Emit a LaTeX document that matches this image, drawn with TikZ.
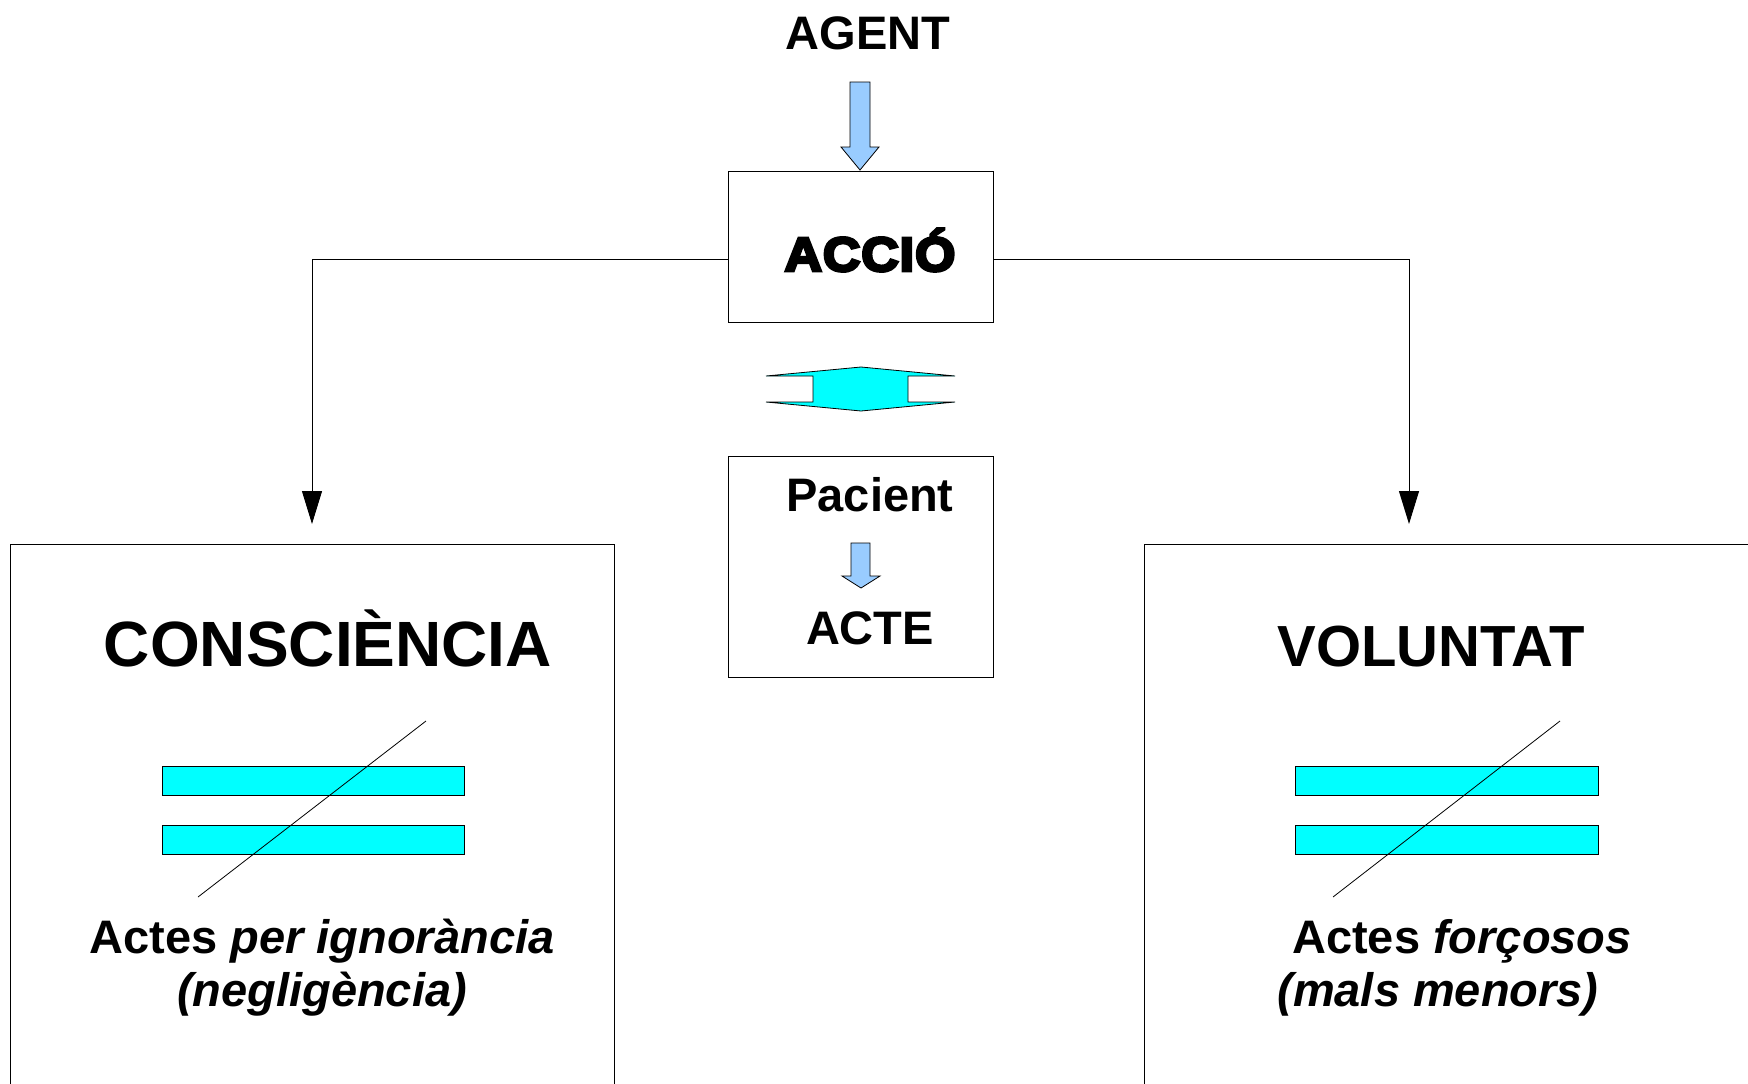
\documentclass[tikz,border=0pt]{standalone}
\usepackage{fontspec}
\setmainfont{Liberation Sans}
\newfontfamily\blackfont[FakeBold=6,FakeStretch=1.08,LetterSpace=2]{Liberation Sans Bold}
\usetikzlibrary{arrows.meta}
\definecolor{barcyan}{HTML}{00FFFF}
\definecolor{arrowblue}{HTML}{99CCFF}
\tikzset{
  box/.style={draw, line width=1pt, inner sep=0pt},
  txt/.style={anchor=base, inner sep=0pt, font=\bfseries\fontsize{47}{50}\selectfont},
  title/.style={anchor=base, inner sep=0pt, font=\bfseries\fontsize{64}{70}\selectfont},
  conn/.style={line width=1pt, shorten >=20pt, -{Triangle[length=33pt,width=20pt]}},
  bluearrow/.style={draw, line width=0.8pt, fill=arrowblue},
  bar/.style={draw, line width=0.8pt, fill=barcyan}
}
\begin{document}
\begin{tikzpicture}[x=1pt,y=-1pt]
  \clip (0,0) rectangle (1748,1084);
  \fill[white] (0,0) rectangle (1748,1084);

  % centre column
  \node[txt] (agent) at (868,49) {AGENT};
  \node[box, minimum width=265pt, minimum height=151pt] (acc) at (860.5,246.5) {};
  \node[txt, font=\blackfont\fontsize{48}{50}\selectfont] (acctxt) at (870,271) {ACCIÓ};
  \node[box, minimum width=265pt, minimum height=221pt] (pac) at (860.5,566.5) {};
  \node[txt] (pacient) at (870,511) {Pacient};
  \node[txt] (acte) at (870,644) {ACTE};

  \draw[bluearrow] (850,82) -- (870,82) -- (870,147) -- (879,147)
      -- (860,170) -- (841,147) -- (850,147) -- cycle;
  \draw[bluearrow] (851,543) -- (870,543) -- (870,576) -- (880,576)
      -- (861,588) -- (842,576) -- (851,576) -- cycle;
  \draw[bar] (766,376) -- (813,376) -- (813,402) -- (766,402) -- (861,411)
      -- (955,402) -- (908,402) -- (908,376) -- (955,376) -- (861,367) -- cycle;

  % side boxes
  \node[box, minimum width=604pt, minimum height=600pt, anchor=north] (cons) at (312,544) {};
  \node[box, minimum width=640pt, minimum height=600pt, anchor=north west] (vol) at (1144,544) {};
  \draw[conn] ([yshift=-12.5pt]acc.west) -| (cons.north);
  \draw[conn] ([yshift=-12.5pt]acc.east) -| ([xshift=265pt]vol.north west);

  \node[title] (constxt) at (328,666) {CONSCIÈNCIA};
  \node[title, font=\bfseries\fontsize{58}{62}\selectfont] (voltxt) at (1431,666) {VOLUNTAT};

  \draw[bar] (162,766) rectangle (464,795);
  \draw[bar] (162,825) rectangle (464,854);
  \draw[line width=0.8pt] (426,721) -- (198,897);
  \draw[bar] (1295,766) rectangle (1598,795);
  \draw[bar] (1295,825) rectangle (1598,854);
  \draw[line width=0.8pt] (1560,721) -- (1333,897);

  \node[txt] (ign) at (322,953) {Actes {\itshape per ignorància}};
  \node[txt] (negl) at (322,1006) {\itshape (negligència)};
  \node[txt] (forc) at (1462,953) {Actes {\itshape forçosos}};
  \node[txt] (mals) at (1438,1006) {\itshape (mals menors)};
\end{tikzpicture}
\end{document}
